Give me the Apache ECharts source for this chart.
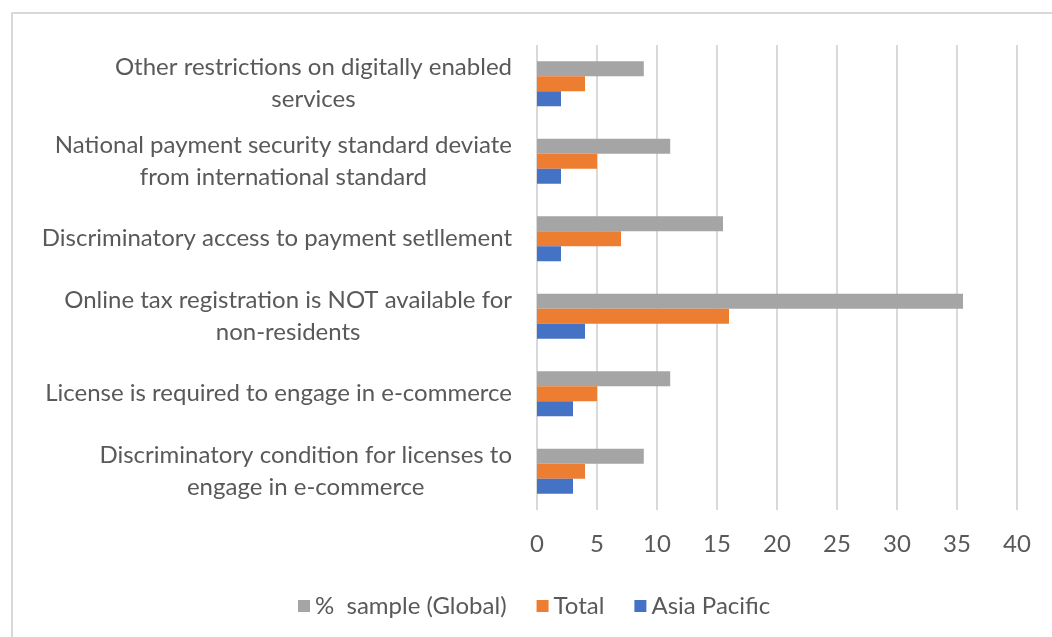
<!DOCTYPE html>
<html>
<head>
<meta charset="utf-8">
<script src="https://cdn.jsdelivr.net/npm/echarts@6/dist/echarts.min.js"></script>
<style>
  html, body { margin: 0; padding: 0; background: #ffffff; }
  #chart { width: 1052px; height: 637px; }
</style>
</head>
<body>
<div id="chart"></div>
<script>
// categories, bottom to top (ECharts puts the first category at the bottom)
const categories = [
  "Discriminatory condition for licenses to\nengage in e-commerce",
  "License is required to engage in e-commerce",
  "Online tax registration is NOT available for\nnon-residents",
  "Discriminatory access to payment setllement",
  "National payment security standard deviate\nfrom international standard",
  "Other restrictions on digitally enabled\nservices",
];

const globalSample = [8.9, 11.1, 35.5, 15.5, 11.1, 8.9];
const totalValues = [4, 5, 16, 7, 5, 4];
const asiaPacific = [3, 3, 4, 2, 2, 2];

const xTicks = { min: 0, max: 40, interval: 5 };

const FONT = "Lato";
const FONT_SIZE = 24;
const TEXT_COLOR = "#595959";
const GRID_COLOR = "#d9d9d9";

const chart = echarts.init(document.getElementById("chart"));

// centre each line of a wrapped label under the other, like Excel does
function wrapLabel(value) {
  return value
    .split("\n")
    .map((line) => "{c|" + line + "}")
    .join("\n");
}

const barWidth = 15;

chart.setOption({
  animation: false,
  backgroundColor: "#ffffff",
  textStyle: { fontFamily: FONT },
  graphic: [
    {
      type: "rect",
      shape: { x: 12, y: 13, width: 1100, height: 700 },
      style: { fill: "none", stroke: GRID_COLOR, lineWidth: 2 },
      silent: true,
    },
  ],
  legend: {
    data: ["%  sample (Global)", "Total", "Asia Pacific"],
    left: 293,
    top: 589,
    itemWidth: 12,
    itemHeight: 12,
    itemGap: 30,
    icon: "rect",
    textStyle: {
      color: TEXT_COLOR,
      fontSize: FONT_SIZE,
      fontFamily: FONT,
    },
  },
  grid: {
    left: 537,
    right: 35,
    top: 45,
    bottom: 127,
  },
  tooltip: { show: false },
  xAxis: {
    type: "value",
    min: xTicks.min,
    max: xTicks.max,
    interval: xTicks.interval,
    axisLine: { show: false },
    axisTick: { show: false },
    axisLabel: {
      color: TEXT_COLOR,
      fontSize: FONT_SIZE,
      fontFamily: FONT,
      margin: 22,
    },
    splitLine: {
      show: true,
      lineStyle: { color: GRID_COLOR, width: 2 },
    },
  },
  yAxis: {
    type: "category",
    data: categories,
    axisLine: { show: false },
    axisTick: { show: false },
    axisLabel: {
      color: TEXT_COLOR,
      fontSize: FONT_SIZE,
      fontFamily: FONT,
      margin: 25,
      lineHeight: 32,
      formatter: wrapLabel,
      rich: {
        c: {
          align: "center",
          color: TEXT_COLOR,
          fontSize: FONT_SIZE,
          fontFamily: FONT,
          lineHeight: 32,
        },
      },
    },
    splitLine: { show: false },
  },
  series: [
    {
      name: "%  sample (Global)",
      type: "bar",
      barWidth: barWidth,
      barGap: "0%",
      itemStyle: { color: "#a5a5a5" },
      data: globalSample,
    },
    {
      name: "Total",
      type: "bar",
      barWidth: barWidth,
      barGap: "0%",
      itemStyle: { color: "#ed7d31" },
      data: totalValues,
    },
    {
      name: "Asia Pacific",
      type: "bar",
      barWidth: barWidth,
      barGap: "0%",
      itemStyle: { color: "#4472c4" },
      data: asiaPacific,
    },
  ],
});
</script>
</body>
</html>
